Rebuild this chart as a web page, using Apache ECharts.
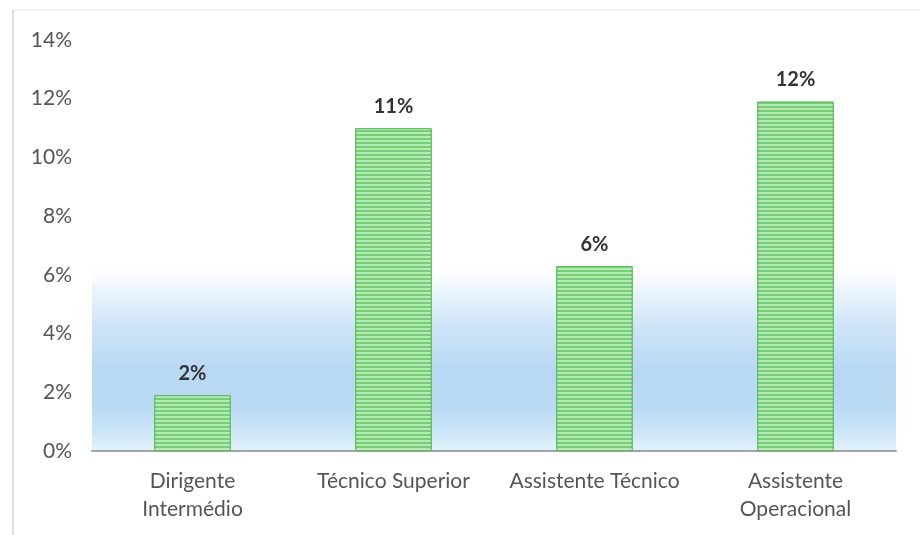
<!DOCTYPE html>
<html>
<head>
<meta charset="utf-8">
<script src="https://cdn.jsdelivr.net/npm/echarts@6/dist/echarts.min.js"></script>
<style>
  html, body { margin: 0; padding: 0; background: #fff; }
  #chart { width: 920px; height: 535px; }
</style>
</head>
<body>
<div id="chart"></div>
<script>
// data
var categories = ['Dirigente\nIntermédio', 'Técnico Superior', 'Assistente Técnico', 'Assistente\nOperacional'];
var values = [1.9, 11.0, 6.3, 11.9];
var labels = ['2%', '11%', '6%', '12%'];
var yTicks = [0, 2, 4, 6, 8, 10, 12, 14];

var myChart = echarts.init(document.getElementById('chart'));

var option = {
    backgroundColor: '#ffffff',
    animation: false,
    textStyle: { fontFamily: 'Lato' },
    grid: {
        left: 92,
        right: 24,
        top: 40,
        bottom: 84,
        show: true,
        borderWidth: 0,
        backgroundColor: {
            type: 'linear', x: 0, y: 0, x2: 0, y2: 1,
            colorStops: [
                { offset: 0, color: 'rgba(255,255,255,0)' },
                { offset: 0.54, color: 'rgba(255,255,255,0)' },
                { offset: 0.6, color: '#eef6fc' },
                { offset: 0.7, color: '#cde4f7' },
                { offset: 0.8, color: '#b8d8f3' },
                { offset: 0.89, color: '#bad9f3' },
                { offset: 0.95, color: '#c9e5f7' },
                { offset: 1, color: '#e2f2fa' }
            ]
        }
    },
    xAxis: {
        type: 'category',
        data: categories,
        axisTick: { show: false },
        axisLine: { show: true, lineStyle: { color: '#a3a3a3', width: 2 } },
        axisLabel: {
            color: '#555555',
            fontSize: 21,
            margin: 16,
            lineHeight: 28,
            interval: 0
        }
    },
    yAxis: {
        type: 'value',
        min: yTicks[0],
        max: yTicks[yTicks.length - 1],
        interval: 2,
        axisLine: { show: false },
        axisTick: { show: false },
        splitLine: { show: false },
        axisLabel: {
            color: '#555555',
            fontSize: 21,
            margin: 20,
            formatter: function (v) { return v + '%'; }
        }
    },
    graphic: [
        { type: 'line', shape: { x1: 13, y1: 10, x2: 13, y2: 535 }, style: { stroke: '#bdbdbd', lineWidth: 1 } },
        { type: 'line', shape: { x1: 13, y1: 10, x2: 920, y2: 10 }, style: { stroke: '#e6e6e6', lineWidth: 1 } }
    ],
    series: [{
        type: 'bar',
        data: values,
        barCategoryGap: '62%',
        itemStyle: {
            color: '#72d172',
            borderColor: '#5cbf5c',
            borderWidth: 1,
            decal: {
                symbol: 'rect',
                symbolSize: 1,
                dashArrayX: [1, 0],
                dashArrayY: [1.5, 2],
                rotation: 0,
                color: 'rgba(255,255,255,0.5)'
            }
        },
        label: {
            show: true,
            position: 'top',
            distance: 12,
            color: '#333333',
            fontSize: 20,
            fontWeight: 'bold',
            formatter: function (p) { return labels[p.dataIndex]; }
        }
    }]
};

myChart.setOption(option);
</script>
</body>
</html>
